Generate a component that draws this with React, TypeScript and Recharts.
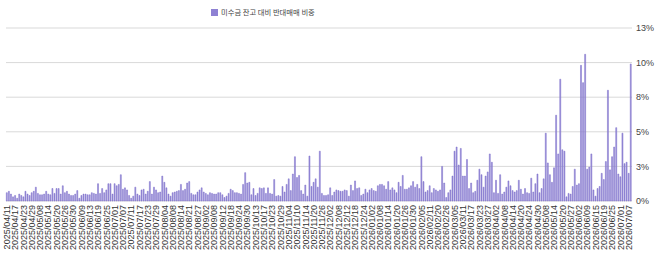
import React from 'react';
import { BarChart, Bar, XAxis, YAxis, CartesianGrid, Legend } from 'recharts';

const SERIES_NAME = '미수금 잔고 대비 반대매매 비중';

// Trading-day categories (KRX calendar) start and market closures
const START_DATE = '2025-04-11';
const MARKET_HOLIDAYS = [
  '2025-05-01', '2025-05-05', '2025-05-06', '2025-06-03', '2025-06-06', '2025-08-15',
  '2025-10-03', '2025-10-06', '2025-10-07', '2025-10-08', '2025-10-09', '2025-12-25',
  '2025-12-31', '2026-01-01', '2026-02-16', '2026-02-17', '2026-02-18', '2026-03-02',
  '2026-05-01', '2026-05-05', '2026-05-25', '2026-06-03',
];

// Values (%)
const valuesApr2025toSep2025 = [
  0.6, 0.7, 0.5, 0.3, 0.4, 0.2, 0.5, 0.4, 0.3, 0.7,
  0.5, 0.4, 0.6, 0.7, 1.0, 0.55, 0.45, 0.45, 0.5, 0.7,
  0.5, 0.45, 0.9, 0.55, 0.9, 0.9, 0.5, 1.1, 0.6, 0.7,
  0.5, 0.4, 0.4, 0.5, 0.75, 0.2, 0.4, 0.5, 0.5, 0.45,
  0.45, 0.6, 0.55, 0.5, 1.25, 0.55, 0.9, 0.6, 0.8, 1.25,
  1.25, 0.5, 1.25, 1.1, 1.2, 1.9, 0.85, 0.95, 0.8, 0.4,
  0.2, 0.35, 1.0, 0.5, 0.4, 0.8, 0.85, 0.5, 0.7, 1.4,
  0.5, 1.0, 0.8, 0.6, 0.65, 1.8, 1.35, 0.95, 0.5, 0.35,
  0.6, 0.65, 0.7, 0.75, 1.2, 0.75, 0.85, 1.3, 1.4, 0.55,
  0.45, 0.45, 0.65, 0.8, 0.95, 0.65, 0.55, 0.45, 0.6, 0.55,
  0.5, 0.5, 0.6,
];

const valuesSep2025toFeb2026 = [
  0.6, 0.45, 0.25, 0.35, 0.55, 0.85, 0.75, 0.6, 0.6, 0.55,
  0.5, 1.2, 2.05, 1.3, 1.35, 0.45, 0.9, 0.4, 0.55, 0.95,
  0.9, 0.95, 0.55, 0.95, 0.55, 0.5, 1.55, 0.35, 0.4, 0.35,
  1.05, 0.65, 1.2, 1.6, 0.75, 1.95, 3.2, 1.7, 1.85, 0.75,
  0.5, 1.15, 0.35, 3.25, 1.05, 1.35, 1.6, 1.0, 3.6, 0.55,
  0.4, 0.4, 0.45, 0.95, 0.4, 0.65, 0.8, 0.75, 0.7, 0.7,
  0.8, 0.75, 0.35, 1.15, 0.75, 1.45, 0.9, 0.95, 0.4, 0.5,
  0.85, 0.6, 0.8, 0.9, 0.75, 0.7, 1.1, 1.2, 1.2, 1.1,
  0.85, 1.4, 0.8, 0.95, 0.8, 0.6, 1.35, 1.05, 1.85, 0.85,
  0.85, 0.95, 1.1, 1.4, 1.0, 1.2, 0.9, 3.2, 1.4, 0.65,
  0.75, 1.1, 0.6, 0.9, 0.8, 0.7,
];

const valuesFeb2026toJul2026 = [
  0.8, 2.5, 1.3, 0.25, 0.6, 0.8, 1.8, 3.6, 3.9, 2.6,
  3.8, 1.8, 1.8, 3.0, 0.9, 1.3, 0.6, 0.7, 1.5, 2.3,
  1.9, 1.0, 1.8, 2.1, 3.4, 2.8, 0.6, 1.5, 0.55, 1.9,
  0.5, 0.65, 1.0, 1.45, 1.1, 0.75, 0.65, 0.75, 1.5, 0.85,
  0.5, 0.9, 0.6, 0.55, 1.65, 0.65, 1.25, 1.95, 0.6, 0.9,
  1.6, 4.9, 2.75, 1.9, 1.35, 2.4, 6.2, 3.4, 8.8, 3.7,
  3.6, 0.3, 0.55, 0.5, 1.05, 2.3, 1.15, 1.25, 9.8, 8.55,
  10.6, 2.3, 2.45, 3.4, 0.8, 0.35, 0.9, 1.05, 2.0, 1.55,
  2.85, 8.0, 2.25, 3.2, 3.9, 5.3, 1.95, 1.75, 4.9, 2.7,
  2.8, 2.0, 9.9,
];

const yTicks = [0, 2.5, 5, 7.5, 10, 12.5];

const values = [...valuesApr2025toSep2025, ...valuesSep2025toFeb2026, ...valuesFeb2026toJul2026];

function buildTradingDays(start: string, count: number): string[] {
  const out: string[] = [];
  const [y, m, d] = start.split('-').map(Number);
  let t = Date.UTC(y, m - 1, d);
  const hol = new Set(MARKET_HOLIDAYS);
  while (out.length < count) {
    const dt = new Date(t);
    const iso = dt.toISOString().slice(0, 10);
    const wd = dt.getUTCDay();
    if (wd !== 0 && wd !== 6 && !hol.has(iso)) out.push(iso.replace(/-/g, '/'));
    t += 86400000;
  }
  return out;
}

const dates = buildTradingDays(START_DATE, values.length);
const data = dates.map((date, i) => ({ date, value: values[i] }));

const BAR_FILL = '#9b90da';
const BAR_STROKE = '#7a6cc8';

const DateTick = (props: any) => {
  const { x, y, payload } = props;
  return (
    <text
      x={x}
      y={y}
      transform={`rotate(-90, ${x}, ${y})`}
      textAnchor="end"
      dominantBaseline="central"
      fontSize={9}
      fill="#333"
    >
      {payload.value}
    </text>
  );
};

const LegendContent = () => (
  <div
    style={{
      display: 'flex',
      alignItems: 'center',
      fontSize: 7.3,
      color: '#444',
      fontFamily: '"Noto Sans CJK KR", sans-serif',
      whiteSpace: 'nowrap',
      lineHeight: '10px',
    }}
  >
    <span style={{ display: 'inline-block', width: 7, height: 7, background: '#8e81d3', marginRight: 3 }} />
    <span>{SERIES_NAME}</span>
  </div>
);

export default function App() {
  return (
    <div style={{ position: 'absolute', left: 0, top: 0, fontFamily: '"Liberation Sans", Arial, sans-serif' }}>
      <BarChart
        width={660}
        height={254}
        data={data}
        margin={{ top: 28, right: 0, bottom: 0, left: 6 }}
        barCategoryGap="15%"
      >
        <CartesianGrid vertical={false} stroke="#d9d9d9" />
        <XAxis
          dataKey="date"
          interval={3}
          tick={<DateTick />}
          tickLine={false}
          axisLine={false}
          tickSize={0}
          tickMargin={4}
          height={53}
        />
        <YAxis
          orientation="right"
          domain={[0, 12.5]}
          ticks={yTicks}
          tickFormatter={(v: number) => Math.round(v) + '%'}
          width={28}
          tickLine={false}
          axisLine={false}
          tickSize={0}
          tickMargin={4}
          tick={{ fontSize: 9, fill: '#444' }}
        />
        <Legend
          verticalAlign="middle"
          align="center"
          layout="horizontal"
          content={<LegendContent />}
          wrapperStyle={{ top: 7, left: 211, width: 'auto', height: 10 }}
        />
        <Bar
          dataKey="value"
          name={SERIES_NAME}
          fill={BAR_FILL}
          stroke={BAR_STROKE}
          strokeWidth={0.5}
          isAnimationActive={false}
        />
      </BarChart>
    </div>
  );
}
